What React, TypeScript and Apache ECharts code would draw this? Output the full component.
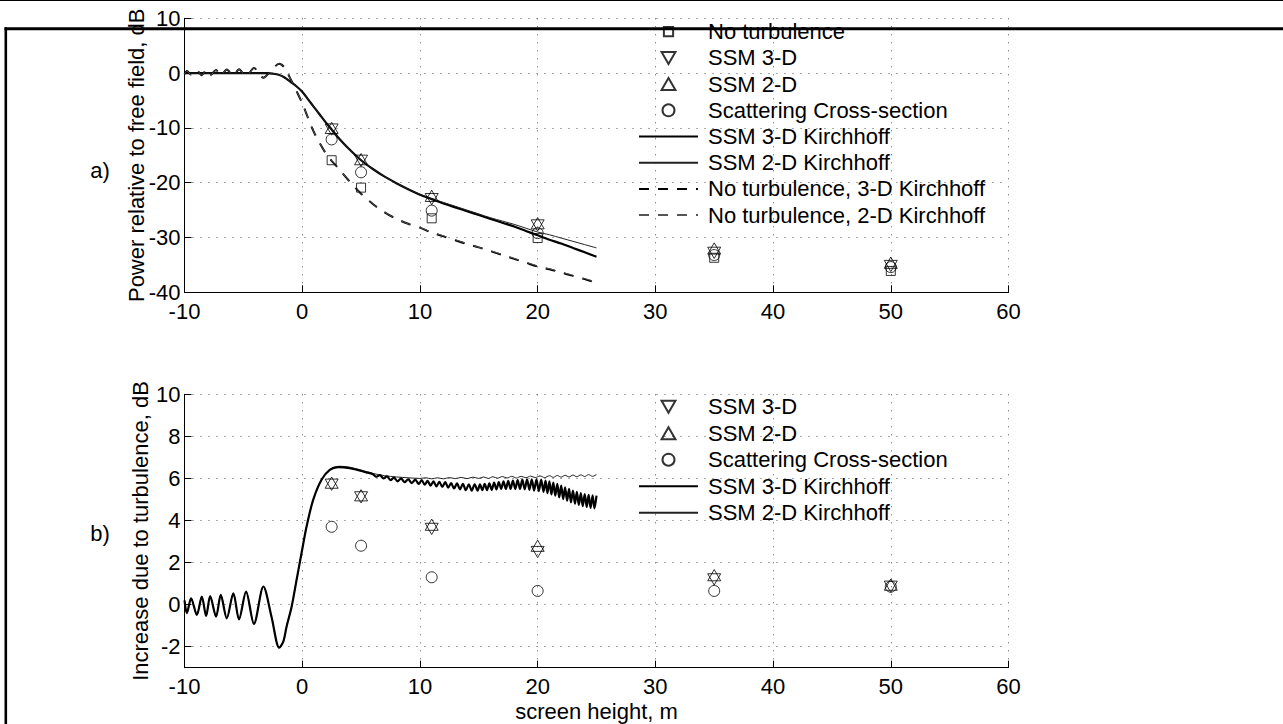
import React, { useEffect, useRef } from "react";
import * as echarts from "echarts";

const FONT = "'Liberation Sans', Arial, Helvetica, sans-serif";

// ---------- data ----------
const yTicksBottom = [-2, 0, 2, 4, 6, 8, 10];
const markerX = [2.5, 5, 11, 20, 35, 50];

// panel a) markers
const noTurbA = [-15.9, -20.9, -26.5, -30.1, -33.7, -36.1];
const ssm3A = [-10.3, -16.0, -23.0, -27.8, -32.8, -35.2];
const ssm2A = [-10.0, -15.7, -22.4, -27.4, -32.0, -34.6];
const scatA = [-12.1, -18.1, -25.1, -29.2, -33.2, -35.4];

// panel b) markers
const ssm3B = [5.7, 5.1, 3.6, 2.5, 1.2, 0.85];
const ssm2B = [5.8, 5.2, 3.8, 2.8, 1.4, 0.95];
const scatB = [3.7, 2.8, 1.3, 0.65, 0.65, 0.85];

// panel a) curves
const kirch3A: number[][] = [
  [-10, 0], [-3, 0], [-2.5, -0.1], [-2, -0.3], [-1.5, -0.8], [-1, -1.6], [-0.5, -2.4],
  [0, -3.4], [0.5, -4.8], [1, -6.2], [1.5, -7.6], [2, -9.0], [2.5, -10.3], [3, -11.6],
  [3.5, -12.8], [4, -13.9], [5, -15.9], [6, -17.5], [7, -18.9], [8, -20.1], [9, -21.2],
  [10, -22.2], [11, -23.0], [12, -23.8], [13, -24.5], [14, -25.2], [15, -25.9], [16, -26.6],
  [17, -27.3], [18, -28.0], [19, -28.8], [20, -29.6], [21, -30.4], [22, -31.1], [23, -31.9],
  [24, -32.7], [25, -33.5],
];
const kirch2A: number[][] = [
  [-10, 0], [-3, 0], [-2.5, -0.1], [-2, -0.3], [-1.5, -0.8], [-1, -1.6], [-0.5, -2.4],
  [0, -3.4], [0.5, -4.8], [1, -6.2], [1.5, -7.6], [2, -9.0], [2.5, -10.3], [3, -11.6],
  [3.5, -12.8], [4, -13.9], [5, -15.9], [6, -17.5], [7, -18.9], [8, -20.1], [9, -21.2],
  [10, -22.1], [11, -22.9], [12, -23.6], [13, -24.3], [14, -25.0], [15, -25.7], [16, -26.4],
  [17, -27.0], [18, -27.6], [19, -28.3], [20, -29.0], [21, -29.5], [22, -30.1], [23, -30.7],
  [24, -31.3], [25, -31.9],
];
const noTurb3A: number[][] = [
  [-10, -0.2], [-9.8, 0.4], [-9.44, -0.3], [-8.95, 0.5], [-8.53, -0.38], [-8.16, 0.54],
  [-7.82, -0.41], [-7.32, 0.57], [-6.92, -0.46], [-6.41, 0.65], [-5.85, -0.54], [-5.37, 0.7],
  [-4.77, -0.62], [-4.1, 0.92], [-3.3, -0.86], [-2.6, 0.6], [-1.95, 1.7], [-1.5, 1.0],
  [-1.1, -0.6], [-0.8, -1.9], [-0.5, -3.2], [0, -5.5], [0.5, -8.2], [1, -10.8], [1.5, -12.8],
  [2, -14.6], [2.5, -16.0], [3, -17.2], [4, -19.7], [5, -22.0], [6, -23.9], [7, -25.4],
  [8, -26.6], [9, -27.5], [10, -28.2], [11, -29.1], [12, -29.8], [13, -30.5], [14, -31.2],
  [15, -31.8], [16, -32.5], [17, -33.2], [18, -33.9], [19, -34.6], [20, -35.3], [21, -35.8],
  [22, -36.4], [23, -37.0], [24, -37.6], [25, -38.3],
];
const noTurb2A: number[][] = [
  [-10, -0.2], [-9.8, 0.4], [-9.44, -0.3], [-8.95, 0.5], [-8.53, -0.38], [-8.16, 0.54],
  [-7.82, -0.41], [-7.32, 0.57], [-6.92, -0.46], [-6.41, 0.65], [-5.85, -0.54], [-5.37, 0.7],
  [-4.77, -0.62], [-4.1, 0.92], [-3.3, -0.86], [-2.6, 0.6], [-1.95, 1.7], [-1.5, 1.0],
  [-1.1, -0.6], [-0.8, -1.9], [-0.5, -3.2], [0, -5.5], [0.5, -8.2], [1, -10.8], [1.5, -12.8],
  [2, -14.6], [2.5, -16.0], [3, -17.2], [4, -19.7], [5, -22.0], [6, -23.9], [7, -25.4],
  [8, -26.6], [9, -27.5], [10, -28.2], [11, -29.0], [12, -29.7], [13, -30.4], [14, -31.1],
  [15, -31.8], [16, -32.4], [17, -33.1], [18, -33.8], [19, -34.5], [20, -35.2], [21, -35.7],
  [22, -36.3], [23, -36.9], [24, -37.5], [25, -38.1],
];

// panel b) curves
const kirch3B: number[][] = [
  [-10, 0.2], [-9.8, -0.41], [-9.44, 0.3], [-8.95, -0.49], [-8.53, 0.38], [-8.16, -0.54],
  [-7.82, 0.41], [-7.32, -0.57], [-6.92, 0.46], [-6.41, -0.65], [-5.85, 0.54], [-5.37, -0.7],
  [-4.77, 0.62], [-4.1, -0.92], [-3.3, 0.86], [-2.6, -0.6], [-1.95, -2.05], [-1.6, -1.75],
  [-1.33, -1.05], [-0.9, -0.1], [-0.48, 1.17], [-0.06, 2.44], [0.37, 3.71], [0.93, 4.98],
  [1.64, 5.94], [2.34, 6.41], [3.05, 6.54], [4.04, 6.49], [5.45, 6.29], [6.0, 6.2],
  [6.3, 6.08], [6.6, 6.16], [6.9, 6.0], [7.2, 6.1], [7.5, 5.92], [7.8, 6.04], [8.1, 5.86],
  [8.4, 6.0], [8.7, 5.82], [9.0, 5.96], [9.3, 5.78], [9.6, 5.94], [9.9, 5.74], [10.15, 5.92],
  [10.4, 5.7], [10.65, 5.88], [10.9, 5.66], [11.15, 5.86], [11.4, 5.62], [11.65, 5.84],
  [11.9, 5.6], [12.15, 5.82], [12.4, 5.56], [12.65, 5.78], [12.9, 5.52], [13.15, 5.76],
  [13.4, 5.48], [13.65, 5.74], [13.9, 5.44], [14.15, 5.72], [14.4, 5.42], [14.65, 5.72],
  [14.9, 5.42], [15.1, 5.72], [15.3, 5.44], [15.5, 5.74], [15.7, 5.44], [15.9, 5.76],
  [16.1, 5.46], [16.3, 5.8], [16.5, 5.48], [16.7, 5.82], [16.9, 5.5], [17.1, 5.86],
  [17.3, 5.5], [17.5, 5.88], [17.7, 5.5], [17.9, 5.9], [18.1, 5.5], [18.3, 5.92],
  [18.5, 5.5], [18.7, 5.94], [18.9, 5.48], [19.1, 5.95], [19.3, 5.46], [19.5, 5.96],
  [19.7, 5.42], [19.9, 5.96], [20.1, 5.4], [20.3, 5.94], [20.5, 5.36], [20.67, 5.9],
  [20.83, 5.3], [21.0, 5.86], [21.17, 5.24], [21.33, 5.8], [21.5, 5.18], [21.67, 5.74],
  [21.83, 5.1], [22.0, 5.66], [22.17, 5.02], [22.33, 5.58], [22.5, 4.94], [22.67, 5.5],
  [22.83, 4.86], [23.0, 5.42], [23.17, 4.8], [23.33, 5.36], [23.5, 4.74], [23.67, 5.3],
  [23.83, 4.68], [24.0, 5.26], [24.17, 4.64], [24.33, 5.22], [24.5, 4.6], [24.67, 5.2],
  [24.83, 4.58], [25.0, 5.18],
];
const kirch2B: number[][] = [
  [-10, 0.2], [-9.8, -0.41], [-9.44, 0.3], [-8.95, -0.49], [-8.53, 0.38], [-8.16, -0.54],
  [-7.82, 0.41], [-7.32, -0.57], [-6.92, 0.46], [-6.41, -0.65], [-5.85, 0.54], [-5.37, -0.7],
  [-4.77, 0.62], [-4.1, -0.92], [-3.3, 0.86], [-2.6, -0.6], [-1.95, -2.05], [-1.6, -1.75],
  [-1.33, -1.05], [-0.9, -0.1], [-0.48, 1.17], [-0.06, 2.44], [0.37, 3.71], [0.93, 4.98],
  [1.64, 5.94], [2.34, 6.43], [3.2, 6.58], [4.04, 6.53], [5.0, 6.4], [6.0, 6.24],
  [7.0, 6.13], [8.0, 6.07], [9.0, 6.03], [10, 6.0], [10.5, 6.03], [11, 5.98], [11.5, 6.03],
  [12, 5.98], [12.5, 6.04], [13, 5.99], [13.5, 6.05], [14, 5.99], [14.5, 6.06], [15, 6.0],
  [15.4, 6.07], [15.8, 6.0], [16.2, 6.08], [16.6, 6.01], [17, 6.09], [17.4, 6.02],
  [17.8, 6.1], [18.2, 6.02], [18.6, 6.1], [19, 6.03], [19.4, 6.11], [19.8, 6.04],
  [20.2, 6.12], [20.6, 6.04], [21, 6.13], [21.33, 6.05], [21.67, 6.14], [22, 6.06],
  [22.33, 6.15], [22.67, 6.07], [23, 6.16], [23.33, 6.08], [23.67, 6.17], [24, 6.09],
  [24.33, 6.18], [24.67, 6.1], [25, 6.19],
];

const legendA = [
  "No turbulence",
  "SSM 3-D",
  "SSM 2-D",
  "Scattering Cross-section",
  "SSM 3-D Kirchhoff",
  "SSM 2-D Kirchhoff",
  "No turbulence, 3-D Kirchhoff",
  "No turbulence, 2-D Kirchhoff",
];
const legendB = [
  "SSM 3-D",
  "SSM 2-D",
  "Scattering Cross-section",
  "SSM 3-D Kirchhoff",
  "SSM 2-D Kirchhoff",
];

const zip = (xs: number[], ys: number[]) => xs.map((x, i) => [x, ys[i]]);

const SQUARE = "path://M0,0 L10,0 L10,10 L0,10 Z";
const SQUARE_LEGEND = "path://M-1.5,-1.5 M11.5,11.5 M0,0 L10,0 L10,10 L0,10 Z";
const UP_TRI = "path://M10,0 L20,17.32 L0,17.32 Z";
const DOWN_TRI = "path://M0,0 L20,0 L10,17.32 Z";

const openMarker = {
  color: "rgba(255,255,255,0)",
  borderColor: "#000",
  borderWidth: 1,
};

function markerSeries(name: string, data: number[][], gi: number, symbol: string, size: number) {
  return {
    name,
    type: "scatter",
    xAxisIndex: gi,
    yAxisIndex: gi,
    data,
    symbol,
    symbolSize: size,
    symbolKeepAspect: true,
    itemStyle: openMarker,
    z: 5,
  };
}

function lineSeries(name: string, data: number[][], gi: number, width: number, color: string, dash?: number[]) {
  return {
    name,
    type: "line",
    xAxisIndex: gi,
    yAxisIndex: gi,
    data,
    showSymbol: false,
    symbol: "none",
    smooth: 0.3,
    lineStyle: { width, color, type: dash ? dash : "solid" },
    itemStyle: { color },
    z: 3,
  };
}

const lineNames = new Set([
  "SSM 3-D Kirchhoff",
  "SSM 2-D Kirchhoff",
  "No turbulence, 3-D Kirchhoff",
  "No turbulence, 2-D Kirchhoff",
]);

function legendItems(names: string[]) {
  return names.map((n) => {
    if (lineNames.has(n)) return { name: n, itemStyle: { opacity: 0 } };
    if (n === "No turbulence") return { name: n, icon: SQUARE_LEGEND };
    return { name: n };
  });
}

export default function App() {
  const ref = useRef<HTMLDivElement>(null);

  useEffect(() => {
    document.body.style.margin = "0";
    if (!ref.current) return;
    const chart = echarts.init(ref.current, undefined, { renderer: "svg" });

    const FS = 22;
    const axisLine = { show: true, onZero: false, lineStyle: { color: "#000", width: 1 } };
    const axisTick = { show: true, inside: true, length: 7, lineStyle: { color: "#000", width: 1 } };
    const splitLine = { show: true, lineStyle: { color: "#555", width: 1, type: [1, 7] } };
    const label = { color: "#000", fontSize: FS, fontFamily: FONT };
    const nameStyle = { color: "#000", fontSize: FS, fontFamily: FONT };

    const grids = [
      { left: 184.5, top: 18.3, width: 824, height: 274, containLabel: false },
      { left: 184.5, top: 394.3, width: 824, height: 273.4, containLabel: false },
    ];

    const xAxis = [0, 1].map((gi) => ({
      type: "value",
      gridIndex: gi,
      min: -10,
      max: 60,
      interval: 10,
      axisLine,
      axisTick,
      splitLine,
      axisLabel: { ...label, margin: 8 },
      ...(gi === 1
        ? {
            name: "screen height, m",
            nameLocation: "middle",
            nameGap: 33,
            nameTextStyle: nameStyle,
          }
        : {}),
    }));

    const yAxis = [
      {
        type: "value",
        gridIndex: 0,
        min: -40,
        max: 10,
        interval: 10,
        axisLine,
        axisTick,
        splitLine,
        axisLabel: { ...label, margin: 4 },
        name: "Power relative to free field, dB",
        nameLocation: "middle",
        nameRotate: 90,
        nameGap: 37.5,
        nameMoveOverlap: false,
        nameTextStyle: nameStyle,
      },
      {
        type: "value",
        gridIndex: 1,
        min: -3,
        max: 10,
        axisLine,
        axisTick: { ...axisTick, customValues: yTicksBottom },
        splitLine,
        axisLabel: { ...label, margin: 4, customValues: yTicksBottom },
        name: "Increase due to turbulence, dB",
        nameLocation: "middle",
        nameRotate: 90,
        nameGap: 33.5,
        nameMoveOverlap: false,
        nameTextStyle: nameStyle,
      },
    ];

    const legendCommon = {
      orient: "vertical",
      left: 638,
      itemWidth: 59,
      itemHeight: 12,
      padding: 0,
      selectedMode: false,
      align: "left",
      textStyle: { color: "#000", fontSize: FS, fontFamily: FONT, lineHeight: 22, padding: [0, 0, 0, 5] },
    };

    const series = [
      markerSeries("No turbulence", zip(markerX, noTurbA), 0, SQUARE, 9),
      markerSeries("SSM 3-D", zip(markerX, ssm3A), 0, DOWN_TRI, 13),
      markerSeries("SSM 2-D", zip(markerX, ssm2A), 0, UP_TRI, 13),
      markerSeries("Scattering Cross-section", zip(markerX, scatA), 0, "circle", 11),
      lineSeries("SSM 3-D Kirchhoff", kirch3A, 0, 2.2, "#000"),
      lineSeries("SSM 2-D Kirchhoff", kirch2A, 0, 1, "#222"),
      lineSeries("No turbulence, 3-D Kirchhoff", noTurb3A, 0, 2, "#000", [10, 9]),
      lineSeries("No turbulence, 2-D Kirchhoff", noTurb2A, 0, 1, "#555", [10, 9]),

      markerSeries("SSM 3-D", zip(markerX, ssm3B), 1, DOWN_TRI, 13),
      markerSeries("SSM 2-D", zip(markerX, ssm2B), 1, UP_TRI, 13),
      markerSeries("Scattering Cross-section", zip(markerX, scatB), 1, "circle", 11),
      lineSeries("SSM 2-D Kirchhoff", kirch2B, 1, 1, "#222"),
      lineSeries("SSM 3-D Kirchhoff", kirch3B, 1, 2.2, "#000"),
    ];

    chart.setOption({
      animation: false,
      backgroundColor: "#fff",
      grid: grids,
      xAxis,
      yAxis,
      legend: [
        { ...legendCommon, top: 20.7, itemGap: 4.2, data: legendItems(legendA) },
        { ...legendCommon, top: 395.7, itemGap: 4.5, data: legendItems(legendB) },
      ],
      series,
      graphic: [
        { type: "line", z: 100, shape: { x1: 0, y1: 0.5, x2: 1283, y2: 0.5 }, style: { stroke: "#000", lineWidth: 1 } },
        { type: "line", z: 100, shape: { x1: 4.5, y1: 28.8, x2: 1283, y2: 28.8 }, style: { stroke: "#000", lineWidth: 3 } },
        { type: "line", z: 100, shape: { x1: 5.8, y1: 27.3, x2: 5.8, y2: 724 }, style: { stroke: "#000", lineWidth: 2.6 } },
        {
          type: "text",
          z: 100,
          x: 100,
          y: 170,
          style: { text: "a)", fontSize: FS, fontFamily: FONT, fill: "#000", align: "center", verticalAlign: "middle" },
        },
        {
          type: "text",
          z: 100,
          x: 100,
          y: 533,
          style: { text: "b)", fontSize: FS, fontFamily: FONT, fill: "#000", align: "center", verticalAlign: "middle" },
        },
      ],
    });

    return () => chart.dispose();
  }, []);

  return <div ref={ref} style={{ width: 1283, height: 724 }} />;
}
